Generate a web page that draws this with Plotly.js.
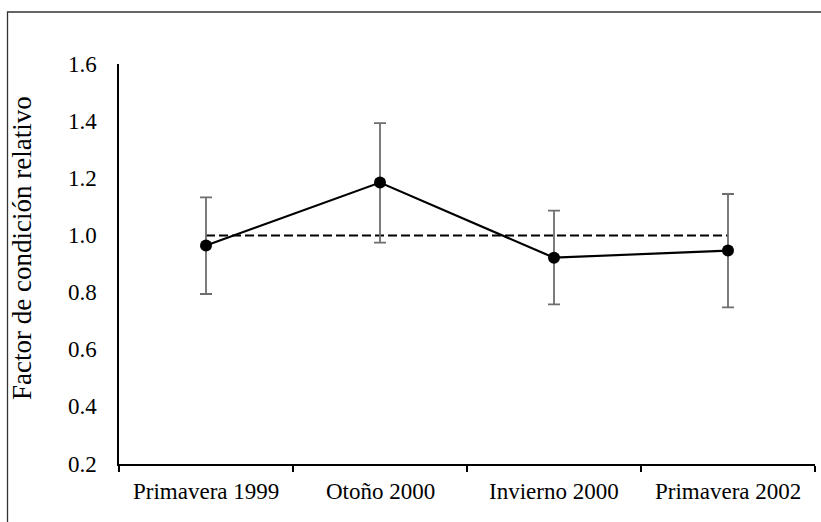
<!DOCTYPE html>
<html>
<head>
<meta charset="utf-8">
<script src="https://cdn.plot.ly/plotly-3.0.1.min.js"></script>
<style>
html,body{margin:0;padding:0;background:#fff;}
#chart{width:821px;height:522px;}
</style>
</head>
<body>
<div id="chart"></div>
<script>
const categories = ["Primavera 1999", "Otoño 2000", "Invierno 2000", "Primavera 2002"];
const values = [0.965, 1.185, 0.922, 0.947];
const errUpper = [0.168, 0.208, 0.165, 0.198];
const errLower = [0.170, 0.210, 0.163, 0.199];
const reference = [1.0, 1.0, 1.0, 1.0];
const yTickValues = [0.2, 0.4, 0.6, 0.8, 1.0, 1.2, 1.4, 1.6];
const yTickLabels = ["0.2", "0.4", "0.6", "0.8", "1.0", "1.2", "1.4", "1.6"];
const yTitle = "Factor de condición relativo";

const font = "Liberation Serif";
const tickSize = 23;

const traces = [
  {
    x: categories, y: reference, type: "scatter", mode: "lines",
    line: {color: "#000", width: 2, dash: "9px,4px"},
    hoverinfo: "skip", showlegend: false
  },
  {
    x: categories, y: values, type: "scatter", mode: "lines+markers",
    line: {color: "#000", width: 2.2},
    marker: {color: "#000", size: 12},
    error_y: {type: "data", symmetric: false, array: errUpper, arrayminus: errLower,
              color: "#6e6e6e", thickness: 1.8, width: 6},
    showlegend: false
  }
];

const annotations = [];
categories.forEach(c => annotations.push({
  text: c, x: c, xref: "x", y: 0, yref: "paper",
  xanchor: "center", yanchor: "middle", yshift: -27, showarrow: false,
  font: {family: font, size: tickSize, color: "#000"}
}));
yTickValues.forEach((v, i) => annotations.push({
  text: yTickLabels[i], x: 0, xref: "paper", y: v, yref: "y",
  xanchor: "right", yanchor: "middle", xshift: -20, showarrow: false,
  font: {family: font, size: tickSize, color: "#000"}
}));
annotations.push({
  text: yTitle, x: -0.1394, xref: "paper", y: 0.54, yref: "paper",
  xanchor: "center", yanchor: "middle", textangle: -90, showarrow: false,
  font: {family: font, size: 27, color: "#000"}
});

const layout = {
  width: 821, height: 522,
  margin: {l: 119, r: 6, t: 64, b: 58},
  paper_bgcolor: "#fff", plot_bgcolor: "#fff",
  font: {family: font, size: tickSize, color: "#000"},
  showlegend: false,
  xaxis: {
    type: "category", range: [-0.5, 3.5],
    showline: true, linecolor: "#000", linewidth: 2,
    ticks: "outside", tickson: "boundaries", ticklen: 6, tickwidth: 1.5, tickcolor: "#000",
    showgrid: false, zeroline: false, showticklabels: false
  },
  yaxis: {
    range: [0.2, 1.6], tickvals: yTickValues,
    showline: true, linecolor: "#000", linewidth: 2,
    ticks: "", showgrid: false, zeroline: false, showticklabels: false
  },
  annotations: annotations,
  shapes: [{
    type: "rect", xref: "paper", yref: "paper",
    x0: -0.1602, x1: 1.03, y0: -0.2, y1: 1.13,
    line: {color: "#333", width: 1.3}, fillcolor: "rgba(0,0,0,0)", layer: "below"
  }]
};

Plotly.newPlot("chart", traces, layout, {displayModeBar: false, staticPlot: true});
</script>
</body>
</html>
